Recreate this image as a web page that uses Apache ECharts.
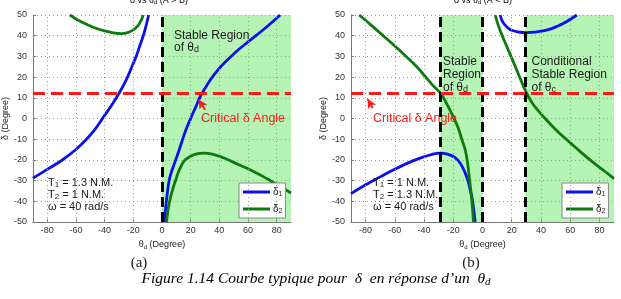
<!DOCTYPE html>
<html>
<head>
<meta charset="utf-8">
<script src="https://cdn.jsdelivr.net/npm/echarts@6/dist/echarts.min.js"></script>
<style>
  html, body { margin: 0; padding: 0; background: #fff; }
  #chart { width: 621px; height: 299px; }
</style>
</head>
<body>
<div id="chart"></div>
<script>
// tick labels
var xTicks = [-80, -60, -40, -20, 0, 20, 40, 60, 80];
var criticalDelta = 12;

// (a) A > B : [theta_d, delta]
var a_d1_left = [[-90,-28.8],[-80,-24.6],[-70,-20.3],[-60,-15],[-53,-10.3],[-47,-5.5],[-41.5,0],[-35,6.5],[-29.8,12.3],[-25,18.5],[-21,25],[-18,30],[-15.5,35],[-13,40],[-11,45],[-9.3,50]];
var a_d1_right = [[1.7,-50],[3,-40.5],[5,-30],[7,-25],[9.6,-20],[12,-15.2],[14.2,-10.5],[16.4,-6],[20,0],[23.5,5.5],[27,11],[32,16.8],[36,20.8],[41.6,25.5],[50,31.2],[60,37],[70,42.5],[76,46],[82.4,50]];
var a_d2_top = [[-64.2,50],[-58,47.3],[-52,45.3],[-46,43.6],[-40,42.3],[-34,41.4],[-28,41],[-24,41.5],[-20,42.8],[-17,44.6],[-15.4,46.3],[-14,48.2],[-13.1,50]];
var a_d2_bottom = [[3.2,-50],[4.5,-43],[6,-38],[7.8,-33.5],[9.6,-29.7],[12,-25],[15.5,-20.5],[20,-18.2],[25,-17],[29,-16.7],[35,-17.2],[43.7,-19.2],[50,-21.2],[59.7,-24.2],[71,-28.2],[76,-30.2],[82,-32.6],[90,-36]];
var a_stable = [[0, 90]];
var a_bounds = [0];

// (b) A < B
var b_d1_top = [[12.1,50],[13.2,47.5],[15,45.5],[18.9,43],[24,41.9],[30.3,41.5],[36,41.7],[41,42.3],[46.3,43.2],[52,44.8],[58,47],[64.5,50]];
var b_d1_bottom = [[-90,-36.3],[-80,-32],[-70,-28.2],[-60.8,-24.8],[-50,-21.2],[-40,-18.5],[-35,-17.4],[-29,-16.7],[-24,-17.2],[-19,-18.8],[-15.2,-21.6],[-12,-26],[-10,-30],[-8.4,-34.5],[-7,-39],[-6,-44],[-5,-50]];
var b_d2_left = [[-84.4,50],[-76,45],[-68.8,40.5],[-60,35],[-51.7,29.6],[-45,25],[-39.2,20.3],[-34,16],[-28.8,12.3],[-24,6.5],[-19.8,0.5],[-16.5,-4.8],[-14.1,-10.2],[-11.8,-15.2],[-10.3,-21],[-9.1,-28],[-8,-35],[-7,-42],[-6.2,-50]];
var b_d2_right = [[8.7,50],[10.8,45],[13.5,40],[16.5,35],[19.5,30],[22.5,25],[26,19],[30.2,12.3],[35,6.5],[42.9,0],[50,-5.3],[57.7,-10.3],[65,-14.8],[73.6,-20],[82,-24.6],[90,-29]];
var b_stable = [[-29, 0], [29.2, 90]];
var b_bounds = [-29, 0, 29.2];

var SANS = '"Liberation Sans", Arial, sans-serif';
var SERIF = '"Liberation Serif", "Times New Roman", serif';
var BLUE = '#0a10f0';
var GREEN = '#0c7a0c';
var RED = '#ff1a1a';
var TXT = '#1a1a1a';
var DOTS = { type: [1, 3], color: '#999', width: 1 };

function rich(f, lh, color) {
  var s = Math.round(f * 0.72);
  return {
    m: { fontSize: f, lineHeight: lh, fontFamily: SANS, color: color },
    s: { fontSize: s, lineHeight: s, verticalAlign: 'bottom', padding: [Math.round(f * 0.45), 0, 0, 0], fontFamily: SANS, color: color }
  };
}

var myChart = echarts.init(document.getElementById('chart'));

var grids = [
  { left: 27, top: 15, width: 264, height: 207 },
  { left: 351, top: 15, width: 263, height: 207 }
];

function xAx(i, nameGap) {
  return {
    type: 'value', gridIndex: i, min: -90, max: 90,
    name: '{m|θ}{s|d}{m| (Degree)}', nameLocation: 'middle', nameGap: nameGap,
    nameTextStyle: { rich: rich(9, 11, TXT) },
    axisLine: { onZero: false, lineStyle: { color: '#777', width: 1 } },
    axisTick: { inside: true, length: 3, customValues: xTicks, lineStyle: { color: '#777' } },
    axisLabel: { customValues: xTicks, fontSize: 9, color: '#333', margin: 4, fontFamily: SANS },
    splitLine: { show: false }
  };
}
function yAx(i, nameGap) {
  return {
    type: 'value', gridIndex: i, min: -50, max: 50, interval: 10,
    name: '{m|δ (Degree)}', nameLocation: 'middle', nameGap: nameGap,
    nameTextStyle: { rich: rich(9, 11, TXT) },
    axisLine: { show: true, onZero: false, lineStyle: { color: '#777', width: 1 } },
    axisTick: { show: true, inside: true, length: 3, lineStyle: { color: '#777' } },
    axisLabel: { fontSize: 9, color: '#333', margin: 6, fontFamily: SANS },
    splitLine: { show: true, lineStyle: DOTS }
  };
}

function curve(name, data, color, i) {
  return {
    type: 'line', name: name, data: data, xAxisIndex: i, yAxisIndex: i,
    showSymbol: false, symbol: 'none', smooth: 0.35,
    lineStyle: { color: color, width: 2.8 }, itemStyle: { color: color },
    silent: true, z: 3
  };
}

// shaded stable regions, with the vertical dotted grid on top of them
function regions(i, spans) {
  return {
    type: 'line', data: [], xAxisIndex: i, yAxisIndex: i, silent: true, z: 1,
    markArea: {
      silent: true,
      itemStyle: { color: 'rgba(95,232,95,0.46)' },
      data: spans.map(function (s) { return [{ xAxis: s[0] }, { xAxis: s[1] }]; })
    },
    markLine: {
      silent: true, symbol: ['none', 'none'], label: { show: false }, lineStyle: DOTS,
      data: xTicks.map(function (t) { return { xAxis: t }; })
    }
  };
}

function guides(i, bounds, arrow) {
  var items = bounds.map(function (b) {
    return { xAxis: b, lineStyle: { color: '#000', width: 3, type: [10, 5] } };
  });
  items.push({ yAxis: criticalDelta, lineStyle: { color: RED, width: 3, type: [12, 6] } });
  items.push([
    { coord: arrow[0], symbol: 'none', lineStyle: { color: RED, width: 2, type: 'solid' } },
    { coord: arrow[1], symbol: 'arrow', symbolSize: [7, 9] }
  ]);
  return {
    type: 'line', data: [], xAxisIndex: i, yAxisIndex: i, silent: true, z: 4,
    markLine: { silent: true, symbol: ['none', 'none'], label: { show: false }, animation: false, data: items }
  };
}

function legendAt(i, left) {
  return {
    left: left, top: 183, orient: 'vertical', data: ['δ1', 'δ2'],
    icon: 'rect', itemWidth: 27, itemHeight: 3, itemGap: 5,
    padding: [3, 3, 3, 4], backgroundColor: '#fff', borderColor: '#888', borderWidth: 1,
    borderRadius: 0, selectedMode: false,
    formatter: function (n) { return '{m|δ}{s|' + n.slice(1) + '}'; },
    textStyle: { rich: rich(10, 12, TXT), padding: [0, 0, 0, -2] }
  };
}

function label(x, y, text, f, lh, color, va) {
  return {
    type: 'text', x: x, y: y, silent: true, z: 10,
    style: { text: text, rich: rich(f, lh, color), verticalAlign: va || 'top', align: 'left', fill: color }
  };
}

var option = {
  animation: false,
  backgroundColor: '#fff',
  grid: grids,
  xAxis: [xAx(0, 13), xAx(1, 13)],
  yAxis: [yAx(0, 14), yAx(1, 20)],
  legend: [legendAt(0, 239), legendAt(1, 562)],
  series: [
    regions(0, a_stable),
    curve('δ1', a_d1_left, BLUE, 0),
    curve('δ1', a_d1_right, BLUE, 0),
    curve('δ2', a_d2_top, GREEN, 0),
    curve('δ2', a_d2_bottom, GREEN, 0),
    guides(0, a_bounds, [[30.1, 4.2], [25.6, 9.1]]),
    regions(1, b_stable),
    curve('δ1', b_d1_top, BLUE, 1),
    curve('δ1', b_d1_bottom, BLUE, 1),
    curve('δ2', b_d2_left, GREEN, 1),
    curve('δ2', b_d2_right, GREEN, 1),
    guides(1, b_bounds, [[-75.2, 5.1], [-78.6, 9.4]])
  ],
  graphic: [
    { type: 'text', x: 159, y: 0.5, silent: true, style: { text: '{m|δ vs θ}{s|d}{m| (A > B)}', rich: rich(9, 10, TXT), align: 'center', verticalAlign: 'middle' } },
    { type: 'text', x: 483, y: 0.5, silent: true, style: { text: '{m|δ vs θ}{s|d}{m| (A < B)}', rich: rich(9, 10, TXT), align: 'center', verticalAlign: 'middle' } },
    label(174, 29, '{m|Stable Region}\n{m|of θ}{s|d}', 12, 12.5, TXT),
    label(201, 119, '{m|Critical δ Angle}', 12.5, 14, RED, 'middle'),
    label(48, 177, '{m|T}{s|1}{m| = 1.3 N.M.}\n{m|T}{s|2}{m| = 1 N.M.}\n{m|ω = 40 rad/s}', 11, 12, TXT),
    label(443, 55.5, '{m|Stable}\n{m|Region}\n{m|of θ}{s|d}', 12, 13, TXT),
    label(531.5, 55.5, '{m|Conditional}\n{m|Stable Region}\n{m|of θ}{s|c}', 12, 13, TXT),
    label(373, 119, '{m|Critical δ Angle}', 12.5, 14, RED, 'middle'),
    label(373, 177, '{m|T}{s|1}{m| = 1 N.M.}\n{m|T}{s|2}{m| = 1.3 N.M.}\n{m|ω = 40 rad/s}', 11, 12, TXT),
    { type: 'text', x: 139, y: 263, silent: true, style: { text: '(a)', font: '15px ' + SERIF, fill: TXT, align: 'center', verticalAlign: 'middle' } },
    { type: 'text', x: 471, y: 263, silent: true, style: { text: '(b)', font: '15px ' + SERIF, fill: TXT, align: 'center', verticalAlign: 'middle' } },
    {
      type: 'text', x: 316, y: 279, silent: true,
      style: {
        text: '{c|Figure 1.14 Courbe typique pour  δ  en réponse d\u2019un  θ}{d|d}',
        align: 'center', verticalAlign: 'middle',
        rich: {
          c: { fontSize: 15.5, lineHeight: 17, fontFamily: SERIF, fontStyle: 'italic', color: TXT },
          d: { fontSize: 11, lineHeight: 11, verticalAlign: 'bottom', padding: [6, 0, 0, 0], fontFamily: SERIF, fontStyle: 'italic', color: TXT }
        }
      }
    }
  ]
};

myChart.setOption(option);
</script>
</body>
</html>
